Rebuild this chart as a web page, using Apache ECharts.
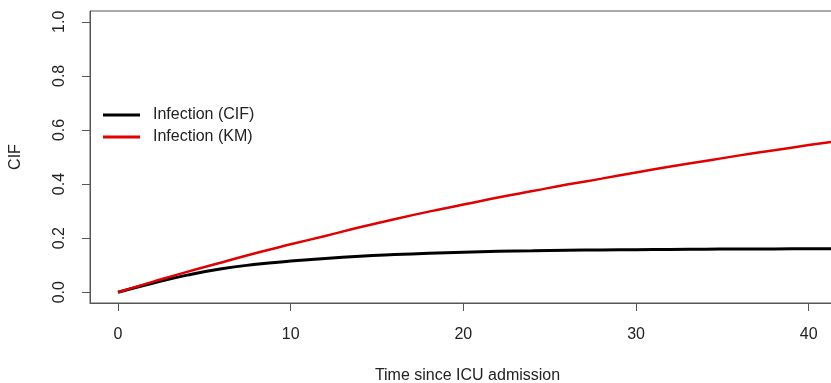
<!DOCTYPE html>
<html>
<head>
<meta charset="utf-8">
<script src="https://cdn.jsdelivr.net/npm/echarts@6/dist/echarts.min.js"></script>
<style>
  html, body { margin: 0; padding: 0; background: #fff; }
  #chart { width: 831px; height: 383px; }
</style>
</head>
<body>
<div id="chart"></div>
<script>
  // time since ICU admission (days)
  const times = [0, 2, 4, 6, 8, 10, 12, 14, 16, 18, 20, 22, 24, 26, 28, 30, 32, 34, 36, 38, 40, 42];
  const cifValues = [0, 0.033, 0.063, 0.087, 0.103, 0.115, 0.125, 0.133, 0.139, 0.144, 0.148, 0.151, 0.153, 0.155, 0.156, 0.157, 0.158, 0.159, 0.160, 0.160, 0.161, 0.161];
  const kmValues = [0, 0.038, 0.075, 0.11, 0.145, 0.177, 0.208, 0.24, 0.27, 0.298, 0.324, 0.35, 0.374, 0.398, 0.42, 0.443, 0.465, 0.485, 0.506, 0.525, 0.544, 0.562];
  const xTicks = [0, 10, 20, 30, 40];
  const yTicks = [0, 0.2, 0.4, 0.6, 0.8, 1.0];

  const chart = echarts.init(document.getElementById('chart'));
  const frame = '#555';
  const ink = '#222';
  const font = 'Liberation Sans, Arial, sans-serif';

  chart.setOption({
    animation: false,
    grid: {
      left: 90,
      right: -14,
      top: 11,
      bottom: 80,
      outerBoundsMode: 'none',
      show: true,
      borderColor: frame,
      borderWidth: 1
    },
    legend: {
      orient: 'vertical',
      left: 103,
      top: 106,
      padding: 0,
      icon: 'rect',
      itemWidth: 37,
      itemHeight: 3,
      itemGap: 4,
      data: ['Infection (CIF)', 'Infection (KM)'],
      textStyle: { color: ink, fontSize: 16, fontFamily: font, lineHeight: 18, padding: [0, 0, 0, 8] }
    },
    xAxis: {
      type: 'value',
      min: -1.62,
      max: 42.1,
      name: 'Time since ICU admission',
      nameLocation: 'middle',
      nameGap: 65,
      nameMoveOverlap: false,
      nameTextStyle: { color: ink, fontSize: 16, fontFamily: font },
      splitLine: { show: false },
      axisLine: { show: true, onZero: false, lineStyle: { color: frame } },
      axisTick: { show: true, length: 8, lineStyle: { color: frame }, customValues: xTicks },
      axisLabel: { color: ink, fontSize: 16, fontFamily: font, margin: 24, customValues: xTicks }
    },
    yAxis: {
      type: 'value',
      min: -0.04,
      max: 1.04,
      name: 'CIF',
      nameLocation: 'middle',
      nameRotate: 90,
      nameGap: 66,
      nameMoveOverlap: false,
      nameTextStyle: { color: ink, fontSize: 16, fontFamily: font },
      splitLine: { show: false },
      axisLine: { show: true, onZero: false, lineStyle: { color: frame } },
      axisTick: { show: true, length: 8, lineStyle: { color: frame }, customValues: yTicks },
      axisLabel: {
        color: ink, fontSize: 16, fontFamily: font, margin: 22, rotate: 90,
        customValues: yTicks,
        formatter: v => v.toFixed(1)
      }
    },
    series: [
      {
        name: 'Infection (CIF)',
        type: 'line',
        smooth: true,
        showSymbol: false,
        color: '#000',
        lineStyle: { width: 3, color: '#000' },
        data: times.map((t, i) => [t, cifValues[i]])
      },
      {
        name: 'Infection (KM)',
        type: 'line',
        smooth: true,
        showSymbol: false,
        color: '#e00000',
        lineStyle: { width: 2.5, color: '#e00000' },
        data: times.map((t, i) => [t, kmValues[i]])
      }
    ]
  });

  window.addEventListener('resize', () => chart.resize());
</script>
</body>
</html>
